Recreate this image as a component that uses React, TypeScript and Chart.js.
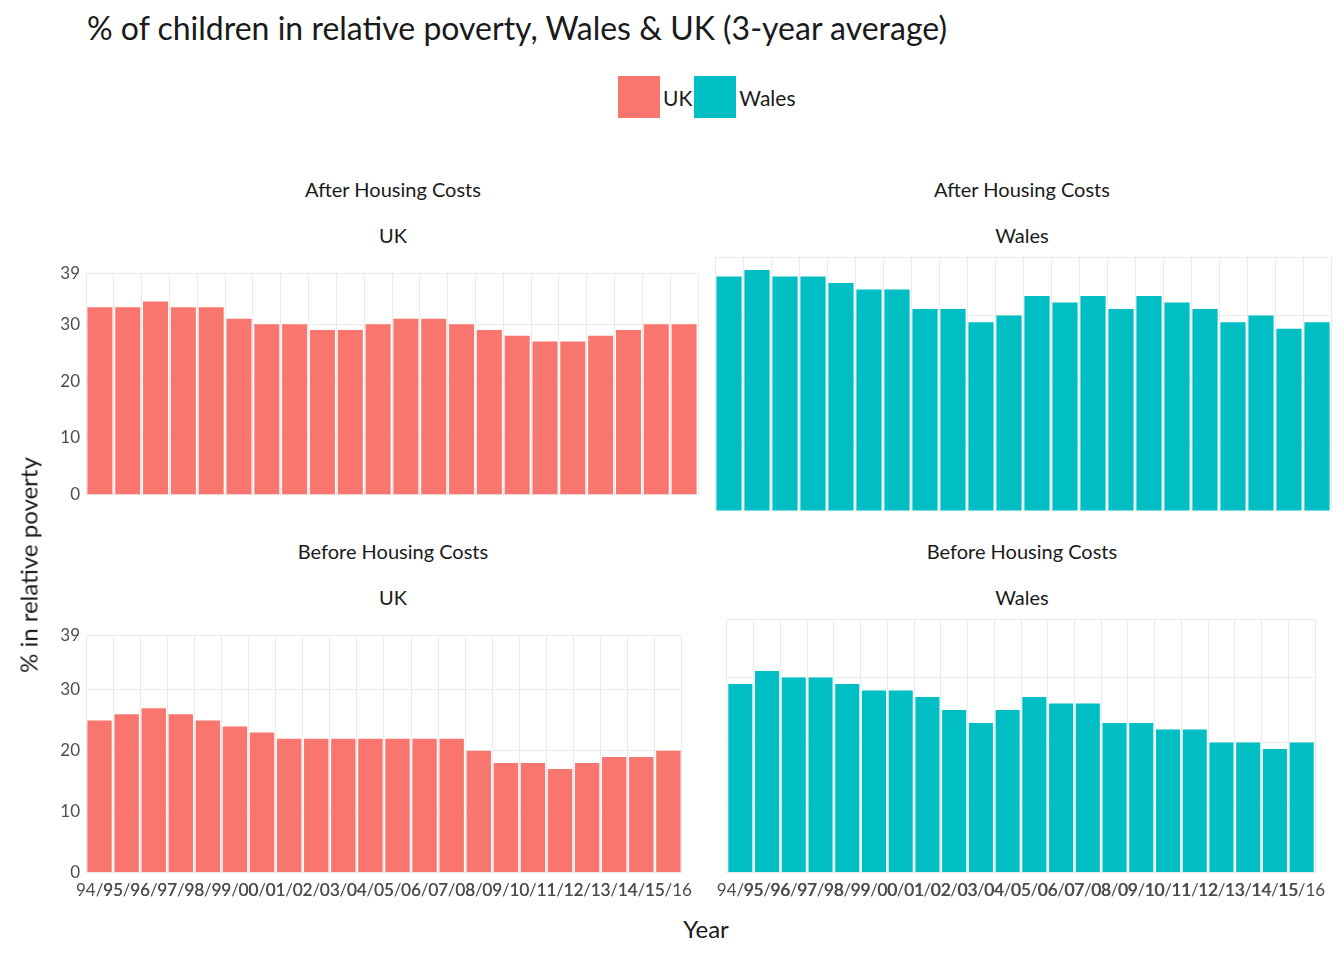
import React, { useRef, useEffect } from 'react';
import { Chart, registerables } from 'chart.js';

Chart.register(...registerables);

const years = ['94/95','95/96','96/97','97/98','98/99','99/00','00/01','01/02','02/03','03/04','04/05','05/06','06/07','07/08','08/09','09/10','10/11','11/12','12/13','13/14','14/15','15/16','16/17'].slice(0, 22);
const ukAhc = [33,33,34,33,33,31,30,30,29,29,30,31,31,30,29,28,27,27,28,29,30,30];
const walesAhc = [36,37,36,36,35,34,34,31,31,29,30,33,32,33,31,33,32,31,29,30,28,29];
const ukBhc = [25,26,27,26,25,24,23,22,22,22,22,22,22,22,20,18,18,17,18,19,19,20];
const walesBhc = [29,31,30,30,29,28,28,27,25,23,25,27,26,26,23,23,22,22,20,20,19,20];

const UK_COLOR = '#F8766D';
const WALES_COLOR = '#00BFC4';
const FONT = 'Lato, "Open Sans", sans-serif';

interface PanelProps {
  values: number[];
  color: string;
  showY: boolean;
  showX: boolean;
  left: number;
  top: number;
  width: number;
  height: number;
}

const Panel: React.FC<PanelProps> = ({ values, color, showY, showX, left, top, width, height }) => {
  const ref = useRef<HTMLCanvasElement>(null);
  useEffect(() => {
    if (!ref.current) return;
    const chart = new Chart(ref.current, {
      type: 'bar',
      data: {
        labels: years,
        datasets: [{ data: values, backgroundColor: color, barPercentage: 0.9, categoryPercentage: 1 }],
      },
      options: {
        animation: false,
        responsive: false,
        layout: { padding: { right: 2, top: 0 } },
        plugins: { legend: { display: false }, tooltip: { enabled: false } },
        scales: {
          x: {
            grid: { color: '#ebebeb', drawTicks: false },
            border: { display: false },
            ticks: {
              display: showX,
              autoSkip: false,
              maxRotation: 0,
              minRotation: 0,
              color: '#4d4d4d',
              font: { family: FONT, size: 17 },
              padding: 8,
            },
          },
          y: {
            min: 0,
            max: 39,
            ticks: {
              stepSize: 10,
              display: showY,
              color: '#4d4d4d',
              font: { family: FONT, size: 17 },
              padding: 6,
            },
            grid: { color: '#ebebeb', drawTicks: false },
            border: { display: false },
            afterFit: (s: any) => { s.width = showY ? 50 : 6; },
          },
        },
      },
    });
    return () => chart.destroy();
  }, []);
  return (
    <canvas
      ref={ref}
      width={width}
      height={height}
      style={{ position: 'absolute', left, top, width, height }}
    />
  );
};

const Strip: React.FC<{ x: number; y: number; a: string; b: string }> = ({ x, y, a, b }) => (
  <>
    <div style={{ position: 'absolute', left: x - 200, width: 400, top: y, textAlign: 'center', fontSize: 20 }}>{a}</div>
    <div style={{ position: 'absolute', left: x - 200, width: 400, top: y + 46, textAlign: 'center', fontSize: 20 }}>{b}</div>
  </>
);

export default function App() {
  return (
    <div style={{ position: 'fixed', left: 0, top: 0, width: 1344, height: 960, background: '#fff', fontFamily: FONT, color: '#1a1a1a', overflow: 'hidden' }}>
      <div style={{ position: 'absolute', left: 87, top: 8, fontSize: 32 }}>
        % of children in relative poverty, Wales &amp; UK (3-year average)
      </div>
      <div style={{ position: 'absolute', left: 618, top: 76, display: 'flex', alignItems: 'center', fontSize: 21 }}>
        <div style={{ width: 42, height: 42, background: UK_COLOR }} />
        <span style={{ marginLeft: 3 }}>UK</span>
        <div style={{ width: 42, height: 42, background: WALES_COLOR, marginLeft: 2 }} />
        <span style={{ marginLeft: 3 }}>Wales</span>
      </div>

      <Strip x={393} y={177} a="After Housing Costs" b="UK" />
      <Strip x={1022} y={177} a="After Housing Costs" b="Wales" />
      <Strip x={393} y={539} a="Before Housing Costs" b="UK" />
      <Strip x={1022} y={539} a="Before Housing Costs" b="Wales" />

      <Panel values={ukAhc} color={UK_COLOR} showY showX={false} left={36} top={257} width={664} height={254} />
      <Panel values={walesAhc} color={WALES_COLOR} showY={false} showX={false} left={709} top={257} width={624} height={254} />
      <Panel values={ukBhc} color={UK_COLOR} showY showX left={36} top={619} width={664} height={290} />
      <Panel values={walesBhc} color={WALES_COLOR} showY={false} showX left={709} top={619} width={624} height={290} />

      <div style={{ position: 'absolute', left: 606, width: 200, top: 914, textAlign: 'center', fontSize: 24 }}>Year</div>
      <div style={{ position: 'absolute', left: 28, top: 565, transform: 'translate(-50%, -50%) rotate(-90deg)', fontSize: 24, whiteSpace: 'nowrap' }}>
        % in relative poverty
      </div>
    </div>
  );
}
